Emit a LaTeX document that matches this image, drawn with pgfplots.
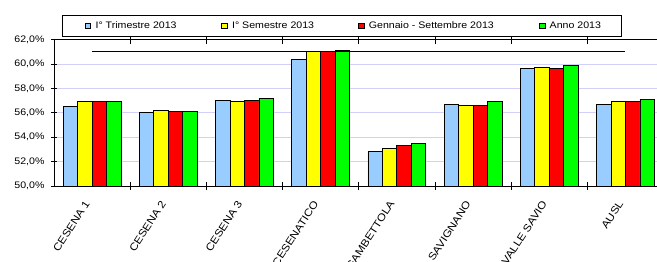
\documentclass[border=0pt]{standalone}
\usepackage{fontspec}
\setmainfont{Liberation Sans}[FakeStretch=1.12]
\usepackage{pgfplots}
\pgfplotsset{compat=1.18}

\definecolor{cblue}{RGB}{153,204,255}
\definecolor{cyel}{RGB}{255,255,0}
\definecolor{cred}{RGB}{255,0,0}
\definecolor{cgreen}{RGB}{0,255,0}
\definecolor{gridc}{RGB}{208,208,250}

\pgfplotsset{sq/.style={legend image code/.code={\draw[##1, line width=0.8bp] (0bp,-2.8bp) rectangle (5.7bp,2.9bp);}}}

\newcommand{\lf}{\fontsize{9.5}{11}\selectfont}
\newcommand{\xf}{\fontsize{10.5}{12}\selectfont}

\begin{document}
\begin{tikzpicture}
\begin{axis}[name=ax, scale only axis, width=606bp, height=146.5bp,
  xmin=-0.5, xmax=7.453, ymin=50, ymax=62,
  ybar=0pt, bar width=0.19,
  /pgf/number format/assume math mode=true,
  ytick={50,52,54,56,58,60,62},
  yticklabel={\pgfmathprintnumber[fixed,fixed zerofill,precision=1,use comma]{\tick}\%},
  ymajorgrids, major grid style={draw=gridc, line width=0.8bp},
  axis line style={line width=0.8bp},
  tick style={black, line width=0.8bp},
  major tick length=6bp, minor tick length=8bp, tick align=center,
  xtick={0,1,2,3,4,5,6,7},
  xticklabels={CESENA 1, CESENA 2, CESENA 3, CESENATICO, GAMBETTOLA, SAVIGNANO, VALLE SAVIO, AUSL},
  major x tick style={draw=none},
  minor xtick={0.5,1.5,2.5,3.5,4.5,5.5,6.5},
  xticklabel style={xshift=-3bp, yshift=-10bp, rotate=57, anchor=east, font=\xf},
  yticklabel style={font=\lf, xshift=-3bp},
  legend columns=4,
  legend style={at={(axis description cs:0.0127,1.019)}, anchor=south west,
    draw=black, line width=1bp, inner xsep=22.6bp, inner ysep=6bp,
    nodes={inner sep=0pt, anchor=west}, /tikz/column sep=0pt, font=\lf},
]
\addplot[sq, fill=cblue, draw=black, line width=0.8bp] coordinates {(0,56.5) (1,56.0) (2,57.0) (3,60.4) (4,52.8) (5,56.7) (6,59.6) (7,56.7)};
\addplot[sq, fill=cyel, draw=black, line width=0.8bp] coordinates {(0,56.9) (1,56.2) (2,56.9) (3,61.0) (4,53.1) (5,56.6) (6,59.7) (7,56.9)};
\addplot[sq, fill=cred, draw=black, line width=0.8bp] coordinates {(0,56.9) (1,56.1) (2,57.0) (3,61.0) (4,53.3) (5,56.6) (6,59.6) (7,56.9)};
\addplot[sq, fill=cgreen, draw=black, line width=0.8bp] coordinates {(0,56.9) (1,56.1) (2,57.2) (3,61.1) (4,53.5) (5,56.9) (6,59.9) (7,57.1)};
\addplot[sharp plot, no markers, black, line width=1bp, forget plot] coordinates {(0,61.0) (7,61.0)};
\legend{\makebox[130bp][l]{\hspace{4.3bp}I° Trimestre 2013},
        \makebox[130.3bp][l]{\hspace{4.3bp}I° Semestre 2013},
        \makebox[174.3bp][l]{\hspace{4.3bp}Gennaio - Settembre 2013},
        \makebox[53.7bp][l]{\hspace{4.3bp}Anno 2013}}
\end{axis}
\pgfresetboundingbox
\path[use as bounding box] ([xshift=-54bp,yshift=-76bp]ax.south west) rectangle ([xshift=603bp,yshift=39.5bp]ax.north west);
\end{tikzpicture}
\end{document}
